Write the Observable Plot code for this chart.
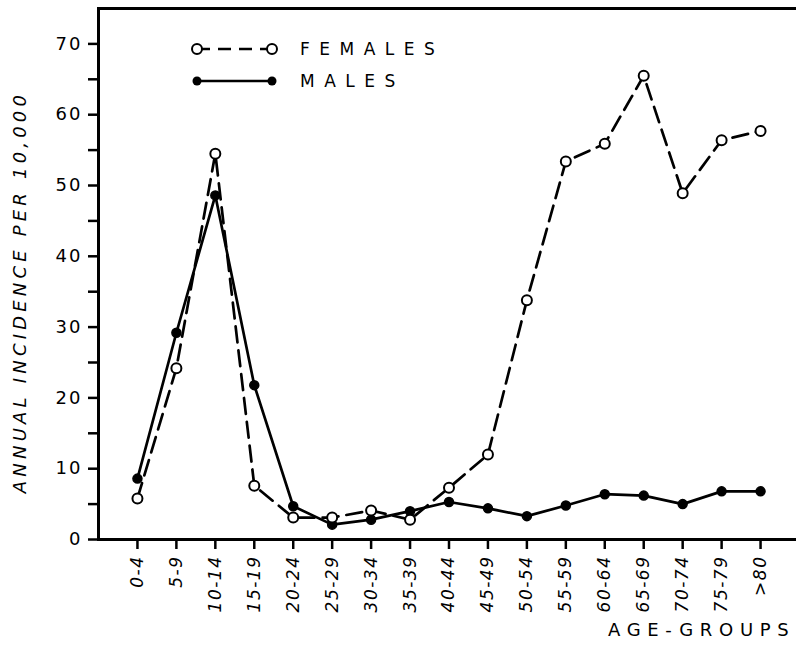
<!DOCTYPE html>
<html><head><meta charset="utf-8">
<script src="https://cdn.jsdelivr.net/npm/d3@7"></script>
<script src="https://cdn.jsdelivr.net/npm/@observablehq/plot@0.6"></script>
<style>
body{margin:0;background:#fff}
svg{display:block}
</style>
</head><body><div id="chart"></div>
<script>
const ageGroups = ["0-4","5-9","10-14","15-19","20-24","25-29","30-34","35-39","40-44","45-49","50-54","55-59","60-64","65-69","70-74","75-79",">80"];
const females = [5.8, 24.2, 54.5, 7.6, 3.1, 3.1, 4.1, 2.8, 7.3, 12.0, 33.8, 53.4, 55.9, 65.5, 48.9, 56.4, 57.7];
const males = [8.6, 29.2, 48.6, 21.8, 4.7, 2.1, 2.8, 4.0, 5.3, 4.4, 3.3, 4.8, 6.4, 6.2, 5.0, 6.8, 6.8];
const yTicks = [0, 10, 20, 30, 40, 50, 60, 70];
const yMinorTicks = [5, 15, 25, 35, 45, 55, 65];
const yLabel = "ANNUAL INCIDENCE PER 10,000";
const xLabel = "AGE-GROUPS";
const seriesNames = ["FEMALES", "MALES"];

const rows = ageGroups.map((g, i) => ({g, f: females[i], m: males[i]}));
const font = "DejaVu Sans";

const chart = Plot.plot({
  width: 796,
  height: 650,
  marginTop: 8,
  marginBottom: 111,
  marginLeft: 98,
  marginRight: -3,
  style: {fontFamily: font, background: "white", color: "black"},
  x: {type: "point", domain: ageGroups, padding: 1, round: false},
  y: {domain: [0, 75]},
  marks: [
    Plot.axisY(yTicks, {tickSize: 10, tickPadding: 6, fontSize: 18, strokeWidth: 2.5, label: null, className: "ytick"}),
    Plot.axisY(yMinorTicks, {tickSize: 10, text: null, strokeWidth: 2.5, label: null}),
    Plot.axisX(ageGroups, {tickSize: 10, tickPadding: 6, tickRotate: -90, fontSize: 17, fontStyle: "italic", strokeWidth: 2.5, label: null, className: "xtick"}),
    Plot.frame({anchor: "left", strokeWidth: 3}),
    Plot.frame({anchor: "top", strokeWidth: 3}),
    Plot.frame({anchor: "bottom", strokeWidth: 3}),
    Plot.line(rows, {x: "g", y: "m", stroke: "black", strokeWidth: 2.7}),
    Plot.line(rows, {x: "g", y: "f", stroke: "black", strokeWidth: 2.7, strokeDasharray: "16,8"}),
    Plot.dot(rows, {x: "g", y: "m", r: 4.5, fill: "black", stroke: "black"}),
    Plot.dot(rows, {x: "g", y: "f", r: 5, fill: "white", stroke: "black", strokeWidth: 2}),
    Plot.text([yLabel], {frameAnchor: "left", textAnchor: "middle", rotate: -90, dx: -78, dy: 18, fontSize: 18, fontStyle: "italic", className: "ylab"}),
    Plot.text([xLabel], {frameAnchor: "bottom-right", textAnchor: "end", dx: -4, dy: 96, fontSize: 18, className: "xlab"})
  ]
});

const svg = d3.select(chart);
svg.selectAll(".ylab text").style("letter-spacing", "4.2px");
svg.selectAll(".xlab text").style("letter-spacing", "6.7px");
svg.selectAll(".ytick text").style("letter-spacing", "2px");
svg.selectAll(".xtick text").style("letter-spacing", "1.5px");

// legend
const lg = svg.append("g").attr("font-family", font).attr("font-size", 17).attr("text-anchor", "start");
const x0 = 197, x1 = 272, yF = 49, yM = 81;
lg.append("line").attr("x1", x0).attr("x2", x1).attr("y1", yF).attr("y2", yF)
  .attr("stroke", "black").attr("stroke-width", 2.5).attr("stroke-dasharray", "13,8");
lg.append("line").attr("x1", x0).attr("x2", x1).attr("y1", yM).attr("y2", yM)
  .attr("stroke", "black").attr("stroke-width", 2.5);
[x0, x1].forEach(x => {
  lg.append("circle").attr("cx", x).attr("cy", yF).attr("r", 5).attr("fill", "white").attr("stroke", "black").attr("stroke-width", 2);
  lg.append("circle").attr("cx", x).attr("cy", yM).attr("r", 4.5).attr("fill", "black");
});
lg.selectAll("text.leg").data(seriesNames).join("text")
  .attr("x", 300).attr("y", (d, i) => i ? yM : yF).attr("dy", "0.36em")
  .style("letter-spacing", "9.5px").text(d => d);

document.getElementById("chart").appendChild(chart);
</script>
</body></html>
